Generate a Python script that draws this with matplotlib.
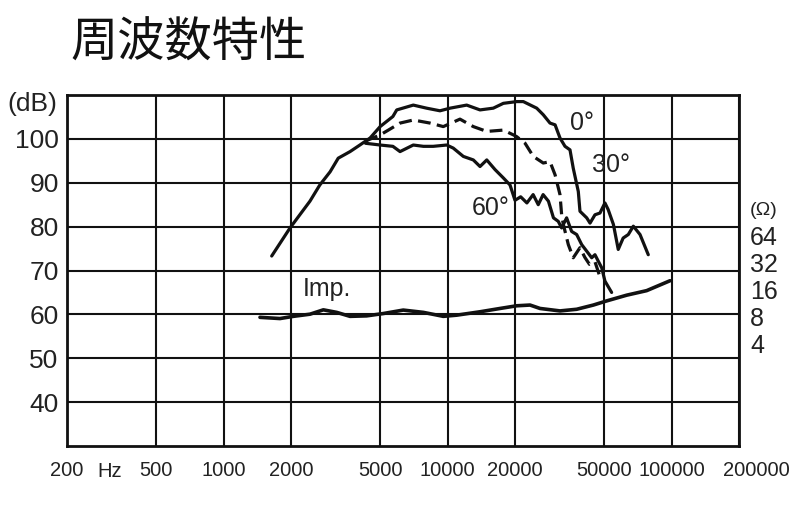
import matplotlib
matplotlib.use("Agg")
import matplotlib.pyplot as plt
import matplotlib.transforms as mtransforms
import numpy as np

# ---------------- data ----------------
title = "周波数特性"
freq_ticks = [200, 500, 1000, 2000, 5000, 10000, 20000, 50000, 100000, 200000]
freq_labels = ["200", "500", "1000", "2000", "5000", "10000", "20000", "50000", "100000", "200000"]
db_ticks = [40, 50, 60, 70, 80, 90, 100]
ohm_ticks = [4, 8, 16, 32, 64, 128]
ohm_labels = ["4", "8", "16", "32", "64", "(Ω)"]

f_0 = [1640, 1980, 2430, 2690, 2990, 3250, 3670, 4060, 4510, 5000, 5700, 5930, 7030, 8060,
       9250, 10260, 12170, 13960, 16000, 17740, 20360, 21780, 25000, 26740, 28660, 30200,
       31760, 33440, 35200, 36400, 38340, 39000, 41800, 43250, 45500, 47900, 50400, 52100,
       55000, 57800, 60800, 64100, 67500, 72300, 78700]
db_0 = [73.3, 79.7, 85.8, 89.5, 92.5, 95.6, 97.1, 98.6, 100.2, 102.8, 105.1, 106.6, 107.7, 107.0,
        106.4, 107.0, 107.7, 106.6, 107.0, 108.1, 108.5, 108.5, 107.0, 105.5, 103.6, 103.2,
        100.2, 98.3, 97.5, 93.3, 88.0, 83.5, 82.0, 80.8, 82.7, 83.1, 85.4, 83.9,
        80.5, 74.8, 77.4, 78.2, 80.1, 78.2, 73.6]

f_30 = [4300, 5000, 5440, 6135, 7030, 8350, 9570, 11360, 13030, 14960, 17740, 19680, 20360,
        22180, 24140, 26740, 28660, 30200, 31760, 32300, 32870, 34600, 36400, 39000, 41000,
        43000, 45500, 48000]
db_30 = [99.5, 100.9, 102.0, 103.6, 104.3, 103.6, 102.8, 104.5, 102.8, 101.7, 102.0, 100.9, 100.5,
         99.0, 96.0, 94.5, 94.8, 91.8, 87.3, 82.7, 80.5, 75.9, 72.9, 75.2, 73.0,
         71.4, 72.0, 68.4]

f_60 = [4300, 5000, 5700, 6135, 7030, 7800, 8630, 9910, 10600, 11760, 13030, 13960, 14960,
        16290, 17740, 19000, 20000, 21200, 22600, 24100, 25400, 26700, 28200, 29700, 31200,
        32300, 34000, 35800, 37700, 39700, 41800, 44000, 45500, 47100, 48800, 50400, 54000]
db_60 = [99.0, 98.6, 98.3, 97.1, 98.6, 98.3, 98.3, 98.6, 97.9, 96.0, 95.2, 93.7, 95.2,
         93.0, 91.1, 89.5, 86.0, 86.8, 85.4, 87.3, 85.0, 87.3, 85.8, 82.0, 81.2,
         79.7, 82.0, 78.9, 78.2, 75.9, 74.4, 72.9, 73.6, 72.1, 70.6, 67.6, 65.0]

f_imp = [1454, 1786, 2048, 2432, 2789, 3200, 3667, 4350, 5164, 6340, 7800, 9570, 10990, 13960,
         17150, 20360, 23340, 25870, 31760, 37700, 44760, 51300, 63080, 77400, 98400]
ohm_imp = [7.8, 7.56, 8.0, 8.46, 9.46, 8.86, 8.0, 8.1, 8.6, 9.4, 8.86, 8.0, 8.25, 9.0,
           9.8, 10.5, 10.7, 9.8, 9.2, 9.6, 10.7, 11.9, 13.8, 15.5, 20.0]

# ---------------- figure ----------------
W, H = 800, 517
fig = plt.figure(figsize=(W / 100, H / 100), dpi=100)
fig.patch.set_facecolor("white")
L, R, T, B = 67, 739, 95, 446
ax = fig.add_axes([L / W, 1 - B / H, (R - L) / W, (B - T) / H])

INK = "#111111"
TXT = "#222222"
num_font = ["Liberation Sans", "DejaVu Sans"]

ax.set_xscale("log")
ax.set_xlim(200, 200000)
ax.set_ylim(30, 110)
ax.set_xticks(freq_ticks)
ax.set_xticklabels(freq_labels)
ax.xaxis.set_minor_locator(matplotlib.ticker.NullLocator())
ax.set_yticks(db_ticks)
ax.set_yticklabels([str(v) for v in db_ticks])
ax.grid(True, which="major", color=INK, linewidth=1.5)
ax.set_axisbelow(True)
for s in ax.spines.values():
    s.set_linewidth(2.0)
    s.set_color(INK)
ax.tick_params(axis="both", length=0)
ax.tick_params(axis="x", pad=11)
ax.tick_params(axis="y", pad=6)
for lbl in ax.get_xticklabels():
    lbl.set_fontfamily(num_font)
    lbl.set_fontsize(14.5)
    lbl.set_color(TXT)
for lbl in ax.get_yticklabels():
    lbl.set_fontfamily(num_font)
    lbl.set_fontsize(19)
    lbl.set_color(TXT)
# shift last x label to the right like the original
last = ax.get_xticklabels()[-1]
last.set_transform(last.get_transform() + mtransforms.ScaledTranslation(17 / 100, 0, fig.dpi_scale_trans))

ax.plot(f_0, db_0, color=INK, linewidth=2.3, solid_joinstyle="round", solid_capstyle="round")
ax.plot(f_30, db_30, color=INK, linewidth=2.3, linestyle=(0, (4, 2)))
ax.plot(f_60, db_60, color=INK, linewidth=2.3, solid_joinstyle="round", solid_capstyle="round")

# impedance axis (right)
ax2 = ax.twinx()
ax2.set_yscale("log", base=2)
db_at_8, db_per_oct = 59.55, 6.14
ax2.set_ylim(8 * 2 ** ((30 - db_at_8) / db_per_oct), 8 * 2 ** ((110 - db_at_8) / db_per_oct))
ax2.set_yticks(ohm_ticks)
ax2.set_yticklabels(ohm_labels)
ax2.yaxis.set_minor_locator(matplotlib.ticker.NullLocator())
ax2.tick_params(axis="y", length=0, pad=8)
for s in ax2.spines.values():
    s.set_visible(False)
for lbl in ax2.get_yticklabels():
    lbl.set_fontfamily(num_font)
    lbl.set_fontsize(18 if lbl.get_text() != "(Ω)" else 14)
    lbl.set_color(TXT)
ax2.plot(f_imp, ohm_imp, color=INK, linewidth=2.6, solid_capstyle="round")

# annotations
ax.text(35200, 103.6, "0°", fontsize=18, family=num_font, ha="left", va="center", color=TXT)
ax.text(44100, 94.1, "30°", fontsize=18, family=num_font, ha="left", va="center", color=TXT)
ax.text(12860, 84.3, "60°", fontsize=18, family=num_font, ha="left", va="center", color=TXT)
ax.text(2264, 65.7, "Imp.", fontsize=18, family=num_font, ha="left", va="center", color=TXT)

# "Hz" and "(dB)"
ax.text(311, -0.072, "Hz", transform=mtransforms.blended_transform_factory(ax.transData, ax.transAxes),
        fontsize=14.5, family=num_font, ha="center", va="center", color=TXT)
fig.text(32 / W, 1 - 104 / H, "(dB)", fontsize=19, family=num_font, ha="center", va="center", color=TXT)

fig.text(70 / W, 1 - 43 / H, title, fontsize=34, family=["Noto Sans CJK JP", "DejaVu Sans"],
         ha="left", va="center", color="#111111")

fig.savefig("out.png", dpi=100, facecolor="white")
